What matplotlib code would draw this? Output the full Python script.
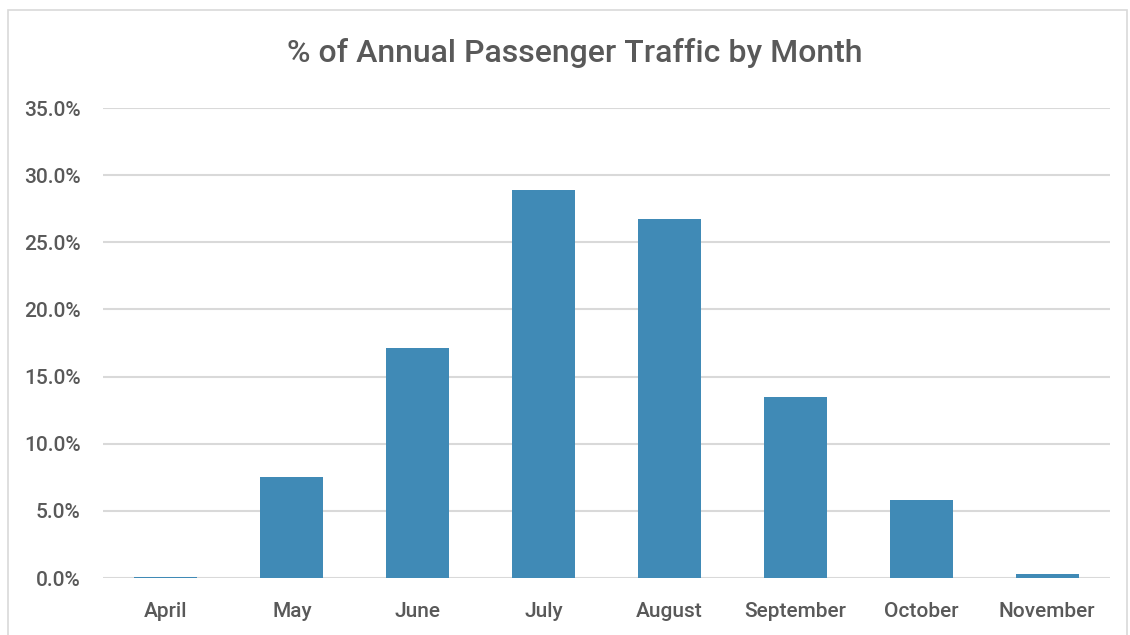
import matplotlib.pyplot as plt
from matplotlib.patches import Rectangle
from matplotlib.ticker import FuncFormatter

months = ['April', 'May', 'June', 'July', 'August', 'September', 'October', 'November']
share_pct = [0.1, 7.5, 17.1, 28.9, 26.7, 13.5, 5.8, 0.3]

plt.rcParams['font.family'] = ['Roboto', 'DejaVu Sans']
plt.rcParams['font.weight'] = 'medium'
text_col = '#595959'
bar_col = '#408AB6'

fig = plt.figure(figsize=(11.3, 6.35), dpi=100)
ax = fig.add_axes([103 / 1130, 1 - 578 / 635, 1007 / 1130, 470 / 635])

# chart frame
fig.patches.append(Rectangle((8 / 1130, -0.05), 1119 / 1130, 1 - 10 / 635 + 0.05,
                             transform=fig.transFigure, fill=False,
                             edgecolor='#D9D9D9', linewidth=1.2))

x = range(len(months))
ax.bar(x, share_pct, width=0.5, color=bar_col, zorder=3)

ax.set_ylim(0, 35)
ax.set_xlim(-0.5, len(months) - 0.5)
ax.set_yticks([0, 5, 10, 15, 20, 25, 30, 35])
ax.yaxis.set_major_formatter(FuncFormatter(lambda v, p: f'{v:.1f}%'))
ax.grid(axis='y', color='#D9D9D9', linewidth=1.5, zorder=0)
ax.set_xticks(list(x))
ax.set_xticklabels(months)
for s in ax.spines.values():
    s.set_visible(False)
ax.tick_params(axis='both', length=0, labelsize=15, labelcolor=text_col)
ax.tick_params(axis='x', pad=17)
ax.tick_params(axis='y', pad=16)

fig.text(575 / 1130, 1 - 53 / 635, '% of Annual Passenger Traffic by Month',
         ha='center', va='center', fontsize=23, color=text_col)

fig.savefig('out.png', dpi=100)
